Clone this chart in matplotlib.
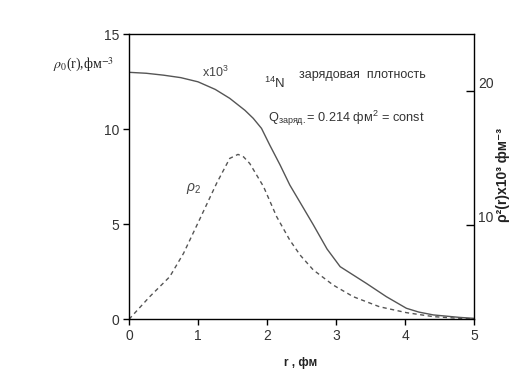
import matplotlib
matplotlib.use("Agg")
import matplotlib.pyplot as plt

# Data
r_rho0 = [0.0, 0.25, 0.5, 0.75, 1.0, 1.25, 1.46, 1.68, 1.80, 1.92, 2.04, 2.19, 2.33, 2.48, 2.67, 2.87, 3.06, 3.25, 3.44, 3.73, 4.02, 4.2, 4.41, 4.79, 5.0]
rho0_x1e3 = [13.0, 12.95, 12.85, 12.72, 12.5, 12.1, 11.63, 11.0, 10.58, 10.05, 9.17, 8.12, 7.07, 6.15, 4.98, 3.7, 2.77, 2.33, 1.89, 1.19, 0.58, 0.38, 0.23, 0.1, 0.05]

r_rho2 = [0.0, 0.3, 0.59, 0.79, 1.02, 1.27, 1.46, 1.58, 1.66, 1.75, 1.95, 2.14, 2.33, 2.48, 2.67, 2.96, 3.25, 3.63, 4.02, 4.41, 4.75, 5.0]
rho2 = [0.0, 1.19, 2.24, 3.47, 5.23, 7.16, 8.47, 8.68, 8.55, 8.2, 6.98, 5.4, 4.17, 3.38, 2.6, 1.8, 1.19, 0.66, 0.35, 0.14, 0.06, 0.02]

x_ticks = [0, 1, 2, 3, 4, 5]
left_ticks = [0, 5, 10, 15]
right_ticks = [10, 20]

plt.rcParams['font.family'] = ['Liberation Sans', 'DejaVu Sans']
plt.rcParams['mathtext.fontset'] = 'custom'
plt.rcParams['mathtext.rm'] = 'Liberation Sans'
plt.rcParams['mathtext.it'] = 'Liberation Sans:italic'
plt.rcParams['mathtext.bf'] = 'Liberation Sans:bold'

fig = plt.figure(figsize=(5.24, 3.90), dpi=100)
ax = fig.add_axes([0.2462, 0.1813, 0.9046 - 0.2462, 0.912 - 0.1813])

line_col = '#555555'
ax.plot(r_rho0, rho0_x1e3, color=line_col, lw=1.0)
ax.plot(r_rho2, rho2, color=line_col, lw=1.0, ls=(0, (3, 2.5)))

ax.set_xlim(0, 5)
ax.set_ylim(0, 15)
ax.set_xticks(x_ticks)
ax.set_yticks(left_ticks)
ax.tick_params(axis='both', direction='out', length=4, width=1, labelsize=10, colors='black', pad=3)
ax.tick_params(axis='x', labelcolor='#333333')
ax.tick_params(axis='y', labelcolor='#333333')
for s in ax.spines.values():
    s.set_linewidth(1.0)
    s.set_color('black')

ax2 = ax.twinx()
ax2.set_ylim(2.96, 24.2)
ax2.set_yticks(right_ticks)
ax2.tick_params(axis='y', direction='in', length=6, width=1, labelsize=10, pad=3, labelcolor='#333333')
for lab in ax2.get_yticklabels():
    lab.set_va('bottom')
for s in ax2.spines.values():
    s.set_visible(False)

# x label
fig.text(301 / 524, 1 - 363 / 390, 'r , фм', ha='center', va='center', fontsize=8.5, fontweight='bold', color='#222222')

# right label
fig.text(503 / 524, 1 - 175 / 390, 'ρ²(r)x10³ фм⁻³', rotation=90, ha='center', va='center',
         fontsize=10, fontweight='bold', color='#222222')

# left label (serif)
fig.text(84 / 524, 1 - 65 / 390, r'$\rho_0$(r),фм$^{-3}$', ha='center', va='center', fontsize=10,
         family=['Liberation Serif', 'DejaVu Serif'], math_fontfamily='stix', color='#222222')

ax.text(1.06, 13.0, r'x10$^{3}$', fontsize=9, color='#444444', va='center', ha='left')
ax.text(1.95, 12.4, r'$^{14}$N', fontsize=9.5, color='#333333', va='center', ha='left')
ax.text(2.47, 12.85, 'зарядовая  плотность', fontsize=9, color='#333333', va='center', ha='left')
ax.text(2.02, 10.6, r'Q$_{\mathregular{заряд.}}$= 0.214 фм$^{2}$ = const', fontsize=9.2, color='#333333', va='center', ha='left')
ax.text(0.83, 6.9, r'$\rho_2$', fontsize=10, color='#444444', va='center', ha='left')

fig.savefig('out.png', dpi=100)
